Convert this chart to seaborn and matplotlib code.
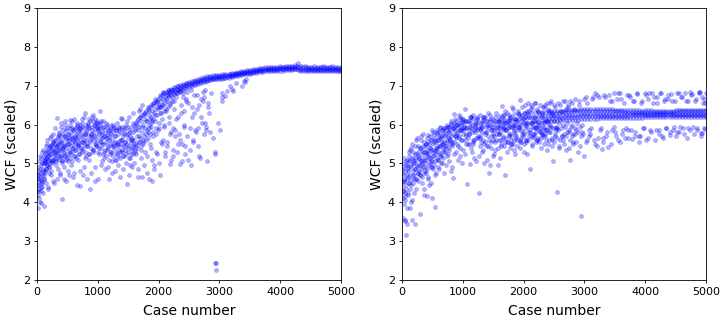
import pandas as pd
import matplotlib
matplotlib.use('Agg')
import matplotlib.pyplot as plt
import seaborn as sns

# values
left_band_x = [2250, 2300, 2350, 2400, 2450, 2500, 2550, 2600, 2650, 2700, 2750, 2800, 2850, 2900, 2950, 3000,
               3050, 3100, 3150, 3200, 3250, 3300, 3350, 3400, 3450, 3500, 3550, 3600, 3650, 3700, 3750, 3800,
               3850, 3900, 3950, 4000, 4050, 4100, 4150, 4200, 4250, 4300, 4350, 4400, 4450, 4500, 4550, 4600,
               4650, 4700, 4750, 4800, 4850, 4900, 4950, 5000]
left_band_top = [6.96, 6.99, 7.02, 7.05, 7.07, 7.10, 7.13, 7.15, 7.17, 7.19, 7.22, 7.24, 7.26, 7.27, 7.28, 7.28,
                 7.29, 7.30, 7.31, 7.33, 7.34, 7.36, 7.38, 7.39, 7.40, 7.40, 7.42, 7.44, 7.45, 7.46, 7.47, 7.48,
                 7.49, 7.49, 7.49, 7.50, 7.49, 7.50, 7.51, 7.52, 7.53, 7.58, 7.52, 7.50, 7.49, 7.49, 7.50, 7.49,
                 7.49, 7.50, 7.49, 7.49, 7.50, 7.48, 7.47, 7.47]
left_band_mid = [6.88, 6.92, 6.95, 6.98, 7.01, 7.04, 7.07, 7.09, 7.11, 7.14, 7.16, 7.18, 7.20, 7.21, 7.22, 7.23,
                 7.24, 7.25, 7.26, 7.28, 7.29, 7.31, 7.33, 7.34, 7.35, 7.35, 7.37, 7.39, 7.40, 7.41, 7.42, 7.43,
                 7.44, 7.44, 7.44, 7.45, 7.44, 7.45, 7.46, 7.46, 7.47, 7.47, 7.44, 7.43, 7.43, 7.43, 7.44, 7.43,
                 7.43, 7.44, 7.43, 7.43, 7.44, 7.43, 7.42, 7.42]
left_band_low = [6.78, 6.82, 6.86, 6.90, 6.93, 6.97, 7.00, 7.03, 7.05, 7.08, 7.10, 7.12, 7.14, 7.16, 7.17, 7.17,
                 7.18, 7.20, 7.21, 7.23, 7.24, 7.25, 7.27, 7.29, 7.30, 7.30, 7.32, 7.34, 7.35, 7.36, 7.37, 7.38,
                 7.39, 7.39, 7.39, 7.39, 7.39, 7.40, 7.41, 7.41, 7.42, 7.40, 7.37, 7.37, 7.37, 7.38, 7.38, 7.38,
                 7.37, 7.38, 7.37, 7.37, 7.38, 7.37, 7.37, 7.37]

left_band2_x = [2275, 2325, 2375, 2425, 2475, 2525, 2575, 2625, 2675, 2725,
                2775, 2825, 2875, 2925, 2975, 3025, 3075, 3125, 3175, 3225,
                3275, 3325, 3375, 3425, 3475, 3525, 3575, 3625, 3675, 3725,
                3775, 3825, 3875, 3925, 3975, 4025, 4075, 4125, 4175, 4225,
                4275, 4325, 4375, 4425, 4475, 4525, 4575, 4625, 4675, 4725,
                4775, 4825, 4875, 4925, 4975]
left_band2_top = [6.95, 6.98, 7.00, 7.03, 7.06, 7.08, 7.11, 7.13, 7.15, 7.18,
                  7.20, 7.22, 7.23, 7.24, 7.25, 7.26, 7.27, 7.27, 7.29, 7.30,
                  7.32, 7.34, 7.35, 7.36, 7.37, 7.38, 7.40, 7.41, 7.43, 7.44,
                  7.44, 7.45, 7.46, 7.46, 7.46, 7.47, 7.47, 7.47, 7.48, 7.49,
                  7.50, 7.49, 7.47, 7.47, 7.46, 7.46, 7.46, 7.46, 7.47, 7.47,
                  7.46, 7.47, 7.46, 7.45, 7.44]
left_band2_low = [6.85, 6.89, 6.92, 6.95, 6.98, 7.01, 7.04, 7.07, 7.09, 7.11,
                  7.13, 7.15, 7.17, 7.18, 7.20, 7.20, 7.21, 7.23, 7.24, 7.25,
                  7.27, 7.29, 7.31, 7.32, 7.33, 7.34, 7.36, 7.37, 7.38, 7.39,
                  7.40, 7.41, 7.41, 7.41, 7.42, 7.42, 7.42, 7.43, 7.43, 7.44,
                  7.44, 7.41, 7.40, 7.40, 7.40, 7.41, 7.40, 7.40, 7.41, 7.40,
                  7.40, 7.41, 7.40, 7.40, 7.39]

left_cloud_x = [5, 12, 18, 25, 30, 38, 44, 52, 60, 66, 74, 82, 90, 98,
                8, 15, 22, 35, 48, 57, 70, 78, 86, 95, 105, 112, 120, 128,
                110, 118, 125, 135, 142, 150, 158, 165, 172, 180, 188, 195, 205, 212,
                135, 145, 155, 168, 178, 185, 198, 208, 218, 226, 235, 245, 255, 262,
                220, 232, 242, 250, 260, 270, 278, 288, 296, 305, 315, 322, 330, 340,
                275, 285, 295, 310, 325, 338, 348, 356, 365, 375, 385, 395, 405, 415,
                350, 360, 372, 382, 392, 402, 412, 422, 432, 442, 452, 462, 472, 482,
                425, 438, 448, 458, 468, 478, 490, 500, 510, 520, 530, 540, 550, 560,
                495, 508, 518, 528, 538, 548, 558, 568, 578, 588, 598, 608, 618, 628,
                570, 582, 592, 602, 612, 622, 632, 642, 652, 662, 672, 682, 692, 702,
                640, 655, 668, 680, 695, 708, 720, 732, 745, 758, 770, 782, 795, 808,
                715, 728, 742, 755, 768, 780, 792, 805, 818, 830, 842, 855, 868, 880,
                820, 835, 848, 860, 875, 888, 900, 915, 928, 940, 952, 965, 978, 990,
                890, 905, 920, 935, 948, 960, 975, 988, 1000, 1012, 1025, 1038, 1050, 1062,
                1000, 1015, 1030, 1045, 1060, 1075, 1090, 1105, 1120, 1135, 1150, 1165, 1180, 1195,
                1070, 1085, 1100, 1115, 1130, 1145, 1160, 1175, 1190, 1205, 1220, 1235, 1250, 1265,
                1210, 1225, 1240, 1255, 1270, 1285, 1300, 1315, 1330, 1345, 1360, 1375, 1390, 1405,
                1280, 1295, 1310, 1325, 1340, 1355, 1370, 1385, 1400, 1415, 1430, 1445, 1460, 1475,
                1420, 1435, 1450, 1465, 1480, 1495, 1510, 1525, 1540, 1555, 1570, 1585, 1600, 1615,
                1490, 1505, 1520, 1535, 1550, 1565, 1580, 1595, 1610, 1625, 1640, 1655, 1670, 1685,
                1630, 1645, 1660, 1675, 1690, 1705, 1720, 1735, 1750, 1765, 1780, 1795, 1810, 1825,
                1700, 1715, 1730, 1745, 1760, 1775, 1790, 1805, 1820, 1835, 1850, 1865, 1880, 1895,
                1840, 1855, 1870, 1885, 1900, 1915, 1930, 1945, 1960, 1975, 1990, 2005, 2020, 2035,
                1910, 1925, 1940, 1955, 1970, 1985, 2000, 2015, 2030, 2045, 2060, 2075, 2090, 2105,
                2050, 2065, 2080, 2095, 2110, 2125, 2140, 2155, 2170, 2185, 2200, 2215, 2230, 2245,
                2120, 2135, 2150, 2165, 2180, 2195, 2210, 2225, 2240, 2255, 2270, 2285, 2300, 2315,
                2260, 2275, 2290, 2305, 2320, 2335, 2350, 2365, 2380, 2395, 2410, 2425, 2440, 2455,
                2330, 2345, 2360, 2375, 2390, 2405, 2420, 2435, 2450, 2470, 2490, 2510, 2530, 2550,
                2470, 2490, 2510, 2530, 2550, 2570, 2590, 2610, 2630, 2650, 2670, 2690, 2710, 2730,
                2565, 2585, 2605, 2625, 2645, 2665, 2685, 2705, 2725, 2745, 2765, 2785, 2800, 2820,
                2740, 2760, 2780, 2810, 2830, 2850, 2870, 2890, 2920, 2935, 2930, 2940, 2950, 2985,
                3015, 3035, 3040, 3050, 3100, 3130, 3180, 3200, 3230, 3375, 3400, 3420, 3440, 3280]
left_cloud_y = [4.3, 3.85, 4.6, 4.1, 5.05, 4.35, 4.75, 4.0, 4.5, 5.15, 3.98, 4.55, 5.3, 4.25,
                4.7, 4.9, 4.45, 4.8, 5.2, 4.65, 4.3, 5.0, 4.4, 4.85, 5.35, 3.9, 4.7, 5.1,
                4.6, 5.2, 5.0, 4.8, 5.45, 4.5, 5.15, 4.95, 5.6, 4.35, 5.3, 4.75, 5.1, 5.65,
                5.05, 5.3, 4.85, 5.5, 4.4, 5.2, 4.9, 5.45, 5.0, 5.7, 4.7, 5.35, 5.1, 5.55,
                5.25, 4.8, 5.5, 5.05, 5.75, 4.55, 5.35, 5.15, 5.9, 4.95, 5.45, 4.6, 5.25, 5.7,
                5.6, 4.5, 5.3, 5.05, 6.17, 4.85, 5.5, 5.2, 5.8, 4.7, 5.4, 5.95, 5.1, 4.08,
                5.35, 5.75, 4.75, 5.55, 5.2, 6.05, 5.0, 5.45, 5.85, 4.6, 5.3, 6.0, 5.1, 5.65,
                5.4, 4.9, 5.7, 5.2, 6.08, 4.55, 5.5, 5.9, 5.05, 5.6, 4.7, 6.12, 5.3, 5.8,
                5.15, 5.75, 4.8, 5.5, 6.0, 5.25, 4.95, 5.65, 6.1, 5.4, 4.65, 5.85, 5.2, 5.55,
                5.9, 5.05, 5.6, 6.15, 4.75, 5.35, 5.7, 5.15, 6.0, 4.45, 5.5, 5.8, 5.25, 4.43,
                5.65, 6.05, 5.1, 5.45, 5.9, 4.8, 5.7, 6.15, 5.3, 5.55, 4.9, 6.3, 5.75, 5.2,
                5.9, 5.4, 6.05, 4.7, 5.6, 6.2, 5.15, 5.8, 4.6, 5.5, 6.0, 5.25, 4.35, 5.7,
                5.45, 5.95, 5.1, 6.15, 5.6, 4.75, 5.85, 6.25, 5.3, 5.7, 4.55, 6.05, 5.5, 5.9,
                5.75, 6.2, 5.35, 5.6, 4.9, 6.0, 5.45, 6.1, 4.6, 5.8, 5.25, 6.35, 5.65, 5.05,
                5.9, 5.4, 6.05, 5.55, 4.95, 5.75, 6.1, 5.3, 4.85, 5.65, 6.0, 5.45, 4.6, 5.85,
                5.5, 5.95, 5.15, 5.7, 6.05, 5.35, 4.9, 5.8, 5.6, 5.25, 6.0, 4.75, 5.5, 5.9,
                5.3, 5.75, 5.05, 6.0, 5.45, 4.8, 5.85, 5.55, 5.2, 5.95, 4.65, 5.6, 6.15, 5.35,
                5.7, 5.1, 6.05, 5.5, 4.95, 5.85, 5.3, 6.18, 5.6, 4.85, 5.75, 5.45, 6.0, 4.47,
                5.2, 5.9, 5.55, 5.0, 6.1, 5.4, 4.7, 5.8, 5.25, 5.65, 4.92, 6.05, 5.5, 5.35,
                5.75, 5.15, 6.2, 4.95, 5.6, 5.4, 6.3, 5.0, 5.85, 5.25, 6.0, 4.65, 5.55, 6.35,
                5.45, 6.1, 4.85, 5.7, 6.4, 5.15, 5.95, 4.65, 5.55, 6.25, 5.3, 6.1, 4.75, 5.8,
                6.2, 5.35, 6.5, 5.6, 4.95, 6.3, 5.75, 5.2, 6.45, 4.6, 5.9, 6.15, 5.4, 4.55,
                6.35, 5.5, 6.05, 5.1, 6.55, 5.7, 4.85, 6.25, 5.3, 6.6, 5.85, 5.0, 6.45, 5.55,
                6.15, 4.95, 6.65, 5.75, 5.25, 6.4, 5.9, 6.75, 4.7, 6.3, 5.5, 6.85, 5.95, 5.2,
                6.5, 5.6, 6.8, 6.0, 5.3, 6.65, 5.45, 6.9, 6.2, 5.75, 5.1, 6.7, 5.9, 5.35,
                6.35, 5.55, 6.75, 6.05, 4.98, 6.5, 5.8, 6.88, 5.2, 6.6, 5.7, 6.15, 6.8, 5.5,
                6.4, 5.85, 6.7, 5.3, 6.2, 6.9, 5.6, 6.5, 5.05, 6.8, 5.95, 6.35, 5.45, 6.65,
                5.75, 6.85, 4.98, 6.3, 5.5, 6.7, 6.0, 5.25, 6.6, 6.85, 5.1, 5.9, 4.95, 6.45,
                5.7, 6.55, 5.35, 6.9, 6.2, 5.55, 6.75, 5.8, 6.4, 5.9, 5.2, 6.65, 6.05, 6.85,
                5.6, 6.3, 5.85, 6.75, 5.45, 6.5, 5.15, 6.2, 6.6, 5.75, 6.9, 5.95, 5.06, 6.45,
                6.7, 6.05, 5.85, 6.55, 6.3, 5.8, 6.8, 5.65, 5.24, 5.3, 2.44, 2.45, 2.27, 6.03,
                5.85, 6.6, 6.7, 6.8, 6.74, 6.87, 7.0, 6.92, 6.87, 7.0, 7.12, 7.1, 7.18, 7.08]

# the dense middle of the left cloud
left_core_x = [3, 11, 19, 27, 35, 43, 51, 59, 67, 75, 83, 91, 99, 107,
               115, 123, 131, 139, 147, 155, 163, 171, 179, 187, 195, 203, 211, 219,
               227, 235, 243, 251, 259, 267, 275, 283, 291, 299, 307, 315, 323, 331,
               339, 347, 355, 363, 371, 379, 387, 395, 403, 411, 419, 427, 435, 443,
               451, 459, 467, 475, 483, 491, 499, 507, 515, 523, 531, 539, 547, 555,
               563, 571, 579, 587, 595, 603, 611, 619, 627, 635, 643, 651, 659, 667,
               675, 683, 691, 699, 707, 715, 723, 731, 739, 747, 755, 763, 771, 779,
               787, 795, 803, 811, 819, 827, 835, 843, 851, 859, 867, 875, 883, 891,
               899, 907, 915, 923, 931, 939, 947, 955, 963, 971, 979, 987, 995, 1003,
               1011, 1019, 1027, 1035, 1043, 1051, 1059, 1067, 1075, 1083, 1091, 1099, 1107, 1115,
               1123, 1131, 1139, 1147, 1155, 1163, 1171, 1179, 1187, 1195, 1203, 1211, 1219, 1227,
               1235, 1243, 1251, 1259, 1267, 1275, 1283, 1291, 1299, 1307, 1315, 1323, 1331, 1339,
               1347, 1355, 1363, 1371, 1379, 1387, 1395, 1403, 1411, 1419, 1427, 1435, 1443, 1451,
               1459, 1467, 1475, 1483, 1491, 1499, 1507, 1515, 1523, 1531, 1539, 1547, 1555, 1563,
               1571, 1579, 1587, 1595, 1603, 1611, 1619, 1627, 1635, 1643, 1651, 1659, 1667, 1675,
               1683, 1691, 1699, 1707, 1715, 1723, 1731, 1739, 1747, 1755, 1763, 1771, 1779, 1787,
               1795, 1803, 1811, 1819, 1827, 1835, 1843, 1851, 1859, 1867, 1875, 1883, 1891, 1899,
               1907, 1915, 1923, 1931, 1939, 1947, 1955, 1963, 1971, 1979, 1987, 1995, 2003, 2011,
               2019, 2027, 2035, 2043, 2051, 2059, 2067, 2075, 2083, 2091, 2099, 2107, 2115, 2123,
               2131, 2139, 2147, 2155, 2163, 2171, 2179, 2187, 2195, 2203, 2211, 2219, 2227, 2235]
left_core_y = [4.45, 4.2, 4.7, 4.55, 4.3, 4.85, 4.6, 4.4, 4.95, 4.7, 4.5, 5.0, 4.8, 4.6,
               5.1, 4.75, 5.0, 5.25, 4.85, 5.15, 5.35, 4.95, 5.2, 5.05, 5.4, 4.9, 5.25, 5.45,
               5.1, 5.35, 5.0, 5.45, 5.2, 5.55, 5.3, 5.05, 5.5, 5.25, 5.4, 5.6, 5.15, 5.45,
               5.3, 5.65, 5.1, 5.5, 5.35, 5.7, 5.2, 5.55, 5.4, 5.05, 5.6, 5.3, 5.75, 5.45,
               5.5, 5.2, 5.7, 5.4, 5.85, 5.6, 5.25, 5.5, 5.75, 5.35, 5.65, 5.15, 5.9, 5.45,
               5.7, 5.3, 5.55, 5.85, 5.4, 5.65, 5.2, 5.9, 5.5, 5.75, 5.35, 5.6, 5.95, 5.45,
               5.7, 5.25, 5.85, 5.5, 6.0, 5.6, 5.35, 5.8, 5.55, 5.95, 5.4, 5.7, 5.9, 5.5,
               5.75, 5.3, 6.0, 5.6, 5.85, 5.45, 6.05, 5.7, 5.25, 5.9, 5.55, 6.1, 5.75, 5.4,
               5.95, 5.65, 6.1, 5.35, 5.8, 6.0, 5.5, 6.15, 5.7, 5.9, 5.45, 6.05, 5.6, 5.85,
               5.3, 5.75, 6.0, 5.55, 5.9, 5.4, 6.1, 5.65, 5.8, 5.25, 5.95, 5.5, 5.7, 5.35,
               5.85, 5.55, 5.2, 5.75, 5.95, 5.4, 5.65, 5.1, 5.85, 5.5, 5.7, 5.3, 5.9, 5.45,
               5.6, 5.2, 5.8, 5.4, 5.95, 5.55, 5.1, 5.7, 5.3, 5.85, 5.5, 5.25, 5.75, 5.45,
               5.9, 5.35, 5.6, 5.15, 5.8, 5.5, 5.95, 5.3, 5.7, 5.45, 5.2, 5.85, 5.55, 5.35,
               5.75, 5.25, 5.95, 5.5, 5.65, 5.3, 5.85, 5.45, 5.15, 5.7, 5.55, 5.95, 5.35, 5.6,
               5.25, 5.8, 5.45, 6.0, 5.6, 5.3, 5.9, 5.5, 6.05, 5.7, 5.4, 5.85, 6.15, 5.55,
               5.95, 6.2, 5.65, 5.45, 6.1, 5.8, 6.25, 5.5, 6.0, 5.7, 6.3, 5.9, 6.15, 5.6,
               6.35, 5.85, 6.1, 6.4, 5.65, 6.25, 6.0, 6.45, 5.75, 6.2, 6.5, 5.95, 6.35, 6.1,
               6.5, 5.8, 6.3, 6.55, 6.1, 6.4, 6.6, 5.9, 6.25, 6.55, 6.45, 6.65, 6.05, 6.5,
               6.7, 6.3, 6.6, 6.45, 6.75, 6.15, 6.65, 6.5, 6.8, 6.35, 6.7, 6.55, 6.85, 6.4,
               6.75, 6.6, 6.85, 6.45, 6.8, 6.7, 6.9, 6.55, 6.85, 6.75, 6.92, 6.6, 6.88, 6.8]

right_band_x = [1600, 1680, 1760, 1840, 1920, 2000, 2060, 2120, 2180, 2240, 2300, 2350, 2400, 2450, 2500, 2550,
                2600, 2650, 2700, 2750, 2800, 2850, 2900, 2950, 3000, 3050, 3100, 3150, 3200, 3250, 3300, 3350,
                3400, 3450, 3500, 3550, 3600, 3650, 3700, 3750, 3800, 3850, 3900, 3950, 4000, 4050, 4100, 4150,
                4200, 4250, 4300, 4350, 4400, 4450, 4500, 4550, 4600, 4650, 4700, 4750, 4800, 4850, 4900, 4950, 5000]
right_band_top = [6.22, 6.24, 6.25, 6.27, 6.28, 6.30, 6.30, 6.31, 6.32, 6.32, 6.33, 6.33, 6.34, 6.34, 6.35, 6.35,
                  6.36, 6.36, 6.37, 6.37, 6.38, 6.38, 6.38, 6.39, 6.39, 6.39, 6.40, 6.39, 6.40, 6.40, 6.40, 6.39,
                  6.39, 6.39, 6.38, 6.38, 6.38, 6.38, 6.37, 6.37, 6.37, 6.37, 6.37, 6.36, 6.37, 6.37, 6.37, 6.36,
                  6.36, 6.36, 6.36, 6.36, 6.36, 6.36, 6.37, 6.37, 6.37, 6.38, 6.38, 6.38, 6.38, 6.38, 6.38, 6.38, 6.38]
right_band_mid = [6.08, 6.10, 6.12, 6.14, 6.15, 6.16, 6.17, 6.18, 6.19, 6.20, 6.20, 6.21, 6.21, 6.22, 6.22, 6.23,
                  6.23, 6.24, 6.24, 6.24, 6.25, 6.25, 6.25, 6.26, 6.26, 6.26, 6.27, 6.27, 6.27, 6.27, 6.27, 6.27,
                  6.27, 6.27, 6.27, 6.27, 6.27, 6.27, 6.27, 6.27, 6.27, 6.27, 6.27, 6.27, 6.27, 6.27, 6.27, 6.27,
                  6.27, 6.27, 6.27, 6.27, 6.28, 6.28, 6.28, 6.28, 6.28, 6.28, 6.28, 6.28, 6.28, 6.28, 6.28, 6.28, 6.28]
right_band_low = [5.92, 5.94, 5.97, 5.99, 6.01, 6.03, 6.04, 6.05, 6.06, 6.07, 6.08, 6.08, 6.09, 6.09, 6.10, 6.10,
                  6.11, 6.11, 6.12, 6.12, 6.13, 6.13, 6.13, 6.14, 6.14, 6.14, 6.15, 6.15, 6.15, 6.16, 6.16, 6.16,
                  6.16, 6.16, 6.17, 6.17, 6.17, 6.17, 6.18, 6.18, 6.18, 6.18, 6.18, 6.18, 6.19, 6.19, 6.19, 6.19,
                  6.19, 6.19, 6.19, 6.19, 6.19, 6.19, 6.19, 6.19, 6.19, 6.19, 6.19, 6.19, 6.19, 6.19, 6.19, 6.19, 6.19]

right_band2_x = [2425, 2475, 2525, 2575, 2625, 2675, 2725, 2775, 2825, 2875,
                 2925, 2975, 3025, 3075, 3125, 3175, 3225, 3275, 3325, 3375,
                 3425, 3475, 3525, 3575, 3625, 3675, 3725, 3775, 3825, 3875,
                 3925, 3975, 4025, 4075, 4125, 4175, 4225, 4275, 4325, 4375,
                 4425, 4475, 4525, 4575, 4625, 4675, 4725, 4775, 4825, 4875,
                 4925, 4975]
right_band2_top = [6.29, 6.30, 6.30, 6.31, 6.32, 6.32, 6.33, 6.33, 6.34, 6.34,
                   6.34, 6.35, 6.35, 6.36, 6.36, 6.35, 6.36, 6.36, 6.35, 6.35,
                   6.35, 6.34, 6.34, 6.34, 6.34, 6.33, 6.33, 6.33, 6.33, 6.33,
                   6.33, 6.33, 6.33, 6.33, 6.33, 6.33, 6.33, 6.33, 6.33, 6.33,
                   6.33, 6.33, 6.34, 6.34, 6.34, 6.34, 6.34, 6.34, 6.34, 6.34,
                   6.35, 6.35]
right_band2_low = [6.15, 6.16, 6.17, 6.18, 6.18, 6.19, 6.19, 6.20, 6.20, 6.20,
                   6.21, 6.21, 6.21, 6.22, 6.22, 6.22, 6.22, 6.22, 6.23, 6.23,
                   6.23, 6.23, 6.23, 6.23, 6.23, 6.23, 6.23, 6.24, 6.24, 6.24,
                   6.24, 6.24, 6.24, 6.24, 6.24, 6.24, 6.24, 6.24, 6.24, 6.24,
                   6.24, 6.24, 6.24, 6.24, 6.24, 6.24, 6.24, 6.24, 6.24, 6.24,
                   6.24, 6.24]

right_cloud_x = [4, 10, 16, 22, 28, 34, 40, 48, 55, 62, 70, 78, 85, 92,
                 6, 14, 20, 30, 42, 50, 60, 68, 76, 88, 98, 106, 115, 125,
                 100, 110, 120, 130, 140, 150, 160, 170, 180, 190, 200, 210, 220, 230,
                 135, 145, 155, 165, 175, 185, 195, 205, 215, 225, 235, 245, 255, 265,
                 240, 250, 260, 270, 280, 290, 300, 310, 320, 330, 340, 350, 360, 370,
                 285, 295, 305, 315, 325, 335, 345, 355, 365, 375, 385, 395, 405, 415,
                 380, 390, 400, 410, 420, 430, 440, 450, 460, 470, 480, 490, 500, 510,
                 425, 435, 445, 455, 465, 475, 485, 495, 505, 515, 525, 535, 545, 555,
                 520, 530, 540, 550, 560, 570, 580, 590, 600, 610, 620, 630, 640, 650,
                 565, 578, 588, 598, 608, 618, 628, 638, 648, 658, 668, 678, 688, 698,
                 660, 672, 684, 696, 708, 720, 732, 744, 756, 768, 780, 792, 804, 816,
                 710, 725, 738, 750, 762, 775, 788, 800, 812, 825, 838, 850, 862, 875,
                 830, 845, 858, 870, 885, 898, 910, 925, 938, 950, 962, 975, 988, 1000,
                 890, 905, 920, 935, 948, 960, 972, 985, 998, 1010, 1022, 1035, 1048, 1060,
                 1015, 1030, 1045, 1070, 1085, 1100, 1115, 1130, 1145, 1160, 1175, 1190, 1205, 1220,
                 1080, 1095, 1110, 1125, 1140, 1155, 1170, 1185, 1200, 1215, 1230, 1245, 1260, 1275,
                 1235, 1250, 1265, 1280, 1295, 1310, 1325, 1340, 1355, 1370, 1385, 1400, 1415, 1430,
                 1290, 1305, 1320, 1335, 1350, 1365, 1380, 1395, 1410, 1425, 1440, 1455, 1470, 1485,
                 1445, 1460, 1475, 1490, 1505, 1520, 1535, 1550, 1565, 1580, 1595, 1610, 1625, 1640,
                 1500, 1515, 1530, 1545, 1560, 1575, 1590, 1605, 1620, 1635, 1650, 1665, 1680, 1695,
                 1655, 1670, 1685, 1700, 1715, 1730, 1745, 1760, 1775, 1790, 1805, 1820, 1835, 1850,
                 1710, 1725, 1740, 1755, 1770, 1785, 1800, 1815, 1830, 1845, 1860, 1875, 1890, 1905,
                 1865, 1880, 1895, 1910, 1925, 1940, 1955, 1970, 1985, 2000, 2015, 2030, 2045, 2060,
                 1920, 1935, 1950, 1965, 1980, 1995, 2010, 2025, 2040, 2055, 2070, 2085, 2100, 2115,
                 2075, 2090, 2105, 2120, 2135, 2150, 2165, 2180, 2195, 2210, 2225, 2240, 2255, 2270,
                 2130, 2145, 2160, 2175, 2190, 2205, 2220, 2235, 2250, 2265, 2280, 2295, 2310, 2325,
                 2285, 2300, 2315, 2330, 2345, 2360, 2375, 2390, 2405, 2420, 2435, 2450, 2465, 2480,
                 2340, 2355, 2370, 2385, 2400, 2415, 2430, 2445, 2460, 2475, 2490, 2505, 2520, 2535,
                 2495, 2510, 2530, 2550, 2555, 2570, 2590, 2610, 2630, 2650, 2670, 2690, 2710, 2730,
                 2550, 2575, 2600, 2625, 2650, 2675, 2700, 2725, 2750, 2770, 2790, 2810, 2830, 2850,
                 2740, 2765, 2790, 2815, 2840, 2865, 2890, 2915, 2950, 2975, 3000, 3020, 3045, 3070,
                 2905, 2930, 2960, 2990, 3020, 3050, 3080, 3110, 3140, 3170, 3200, 3230, 3260, 3290,
                 3090, 3120, 3150, 3180, 3210, 3240, 3270, 3300, 3330, 3360, 3390, 3420, 3450, 3480,
                 3310, 3340, 3370, 3400, 3430, 3460, 3490, 3520, 3550, 3580, 3610, 3640, 3670, 3700,
                 3500, 3530, 3560, 3590, 3620, 3650, 3680, 3710, 3740, 3770, 3800, 3830, 3860, 3890,
                 3720, 3750, 3780, 3810, 3840, 3870, 3900, 3930, 3960, 3990, 4020, 4050, 4080, 4110,
                 3920, 3950, 3980, 4010, 4040, 4070, 4100, 4130, 4160, 4190, 4220, 4250, 4280, 4310,
                 4140, 4170, 4200, 4230, 4260, 4290, 4320, 4350, 4380, 4410, 4440, 4470, 4500, 4530,
                 4340, 4370, 4400, 4430, 4460, 4490, 4520, 4550, 4580, 4610, 4640, 4670, 4700, 4730,
                 4560, 4590, 4620, 4650, 4680, 4710, 4740, 4770, 4800, 4830, 4860, 4890, 4920, 4950,
                 4760, 4790, 4820, 4850, 4880, 4910, 4940, 4970, 4990, 5000, 4985, 4960, 4930, 4900]
right_cloud_y = [4.4, 3.6, 4.85, 4.1, 5.15, 3.95, 4.6, 3.55, 4.25, 5.05, 3.15, 4.7, 3.45, 4.9,
                 4.75, 4.3, 5.0, 4.55, 3.52, 4.05, 4.95, 4.35, 5.1, 3.85, 4.65, 4.2, 5.3, 3.85,
                 4.8, 5.2, 4.5, 5.35, 4.0, 4.9, 5.5, 3.55, 4.7, 5.05, 4.25, 5.45, 3.43, 4.6,
                 5.1, 4.45, 5.4, 4.05, 5.0, 5.3, 4.6, 5.15, 4.85, 5.6, 4.35, 5.25, 4.75, 5.45,
                 4.95, 5.65, 4.55, 5.2, 4.8, 5.4, 3.7, 5.05, 5.7, 4.65, 5.3, 4.9, 5.55, 4.35,
                 5.15, 4.7, 5.6, 4.95, 5.35, 4.5, 5.75, 5.1, 4.2, 5.45, 4.8, 5.25, 5.65, 4.15,
                 5.0, 5.5, 4.75, 5.3, 5.72, 4.6, 5.15, 4.45, 5.4, 4.9, 5.6, 5.05, 4.1, 5.8,
                 5.25, 4.65, 5.5, 5.0, 5.7, 4.5, 5.35, 5.85, 4.85, 5.2, 5.55, 4.7, 3.88, 5.4,
                 5.75, 4.95, 5.3, 5.6, 4.75, 5.85, 5.15, 5.45, 4.9, 5.7, 5.25, 5.9, 5.0, 5.55,
                 5.35, 5.8, 5.1, 5.6, 4.85, 5.45, 5.95, 5.2, 5.7, 5.0, 5.5, 5.85, 5.3, 4.75,
                 5.65, 5.15, 5.9, 5.4, 5.75, 4.95, 5.55, 6.0, 5.25, 5.8, 5.05, 5.6, 6.05, 4.9,
                 5.45, 5.85, 5.2, 5.7, 5.95, 5.35, 5.6, 6.1, 4.8, 5.5, 5.9, 5.25, 6.28, 5.7,
                 5.55, 4.62, 5.9, 6.15, 5.3, 5.75, 6.0, 5.1, 5.65, 6.2, 5.4, 5.85, 5.02, 6.1,
                 5.7, 6.0, 5.45, 6.25, 5.85, 5.2, 6.05, 5.6, 6.15, 5.35, 5.9, 6.4, 5.5, 5.75,
                 5.95, 5.25, 6.1, 4.48, 5.65, 5.85, 6.2, 5.4, 6.0, 5.55, 6.25, 5.15, 5.8, 6.05,
                 5.5, 6.1, 5.75, 4.98, 5.9, 5.3, 6.15, 5.6, 5.95, 5.05, 6.2, 5.7, 4.23, 5.45,
                 5.85, 6.05, 5.2, 6.25, 5.55, 5.95, 5.35, 6.15, 5.0, 5.75, 6.1, 5.45, 6.3, 4.75,
                 5.65, 5.9, 5.3, 6.05, 5.5, 6.2, 5.8, 5.1, 6.0, 5.6, 4.95, 6.1, 5.4, 5.85,
                 6.25, 5.55, 5.95, 5.2, 6.1, 5.7, 5.35, 6.3, 5.85, 4.95, 5.6, 6.15, 5.45, 6.05,
                 5.75, 5.25, 6.2, 5.6, 5.95, 5.4, 6.1, 5.8, 5.15, 5.5, 6.48, 5.7, 6.05, 4.7,
                 6.25, 5.45, 5.9, 6.35, 5.65, 5.3, 6.1, 5.75, 6.2, 5.5, 5.95, 6.4, 5.6, 5.35,
                 5.85, 6.3, 5.55, 6.05, 5.4, 6.2, 5.7, 6.45, 5.5, 5.9, 5.25, 6.15, 5.6, 6.35,
                 5.75, 6.1, 5.45, 6.3, 5.95, 6.62, 5.55, 6.25, 5.7, 5.3, 6.05, 6.5, 5.6, 6.35,
                 5.9, 5.4, 6.2, 5.65, 6.45, 5.8, 5.5, 6.3, 6.0, 5.25, 6.55, 5.7, 4.85, 6.4,
                 5.6, 6.35, 5.85, 6.5, 5.45, 6.1, 5.75, 6.55, 5.9, 5.55, 6.4, 5.65, 6.3, 5.8,
                 6.45, 5.5, 6.2, 5.7, 6.55, 5.95, 5.6, 6.35, 5.85, 6.5, 5.4, 6.05, 5.75, 6.45,
                 5.65, 6.3, 5.9, 5.5, 6.5, 5.75, 6.1, 5.35, 6.4, 5.6, 6.55, 5.95, 5.45, 6.25,
                 6.45, 5.7, 5.85, 6.55, 5.5, 6.35, 5.8, 6.6, 5.6, 6.3, 5.05, 6.5, 5.75, 5.9,
                 5.55, 6.45, 5.85, 5.65, 4.26, 6.55, 5.4, 6.35, 5.7, 6.6, 5.5, 6.4, 5.8, 6.5,
                 5.9, 5.45, 6.5, 5.7, 5.6, 6.6, 5.35, 6.45, 5.8, 5.08, 6.55, 5.55, 6.4, 5.75,
                 5.4, 6.6, 5.7, 5.5, 6.65, 5.85, 5.3, 6.5, 3.64, 5.75, 5.18, 6.7, 5.6, 5.85,
                 6.6, 5.45, 5.8, 6.65, 5.55, 6.55, 5.7, 5.9, 6.7, 5.5, 6.75, 5.65, 5.85, 5.38,
                 5.75, 6.65, 5.6, 6.8, 5.45, 6.7, 5.9, 5.55, 6.75, 5.7, 5.42, 6.6, 5.85, 6.8,
                 5.65, 6.7, 5.8, 6.75, 5.5, 6.6, 5.95, 5.7, 6.8, 5.55, 6.65, 5.85, 5.65, 6.75,
                 5.8, 6.65, 5.6, 6.8, 5.75, 6.55, 5.9, 5.65, 6.75, 5.85, 6.6, 5.7, 6.8, 5.55,
                 5.85, 6.7, 5.62, 6.6, 5.8, 6.78, 5.7, 6.55, 5.9, 6.8, 5.6, 6.65, 5.85, 6.82,
                 5.7, 6.6, 5.9, 6.75, 5.65, 6.8, 5.8, 6.55, 5.6, 6.7, 5.85, 6.8, 5.7, 6.6,
                 6.72, 5.85, 6.55, 5.75, 6.8, 5.65, 6.65, 5.9, 6.75, 5.8, 6.6, 5.95, 5.7, 6.8,
                 5.9, 6.65, 5.72, 6.78, 5.85, 6.6, 5.8, 6.82, 5.95, 6.7, 5.75, 6.6, 5.9, 6.85,
                 5.8, 6.7, 5.92, 6.8, 5.65, 6.6, 5.85, 6.78, 5.75, 6.65, 5.9, 6.85, 5.78, 6.55,
                 6.75, 5.95, 6.6, 5.85, 6.82, 5.7, 6.7, 5.9, 6.55, 6.8, 5.88, 6.65, 5.78, 6.85]

# the dense middle of the right cloud
right_core_x = [3, 12, 21, 30, 39, 48, 57, 66, 75, 84, 93, 102, 111, 120,
                129, 138, 147, 156, 165, 174, 183, 192, 201, 210, 219, 228, 237, 246,
                255, 264, 273, 282, 291, 300, 309, 318, 327, 336, 345, 354, 363, 372,
                381, 390, 399, 408, 417, 426, 435, 444, 453, 462, 471, 480, 489, 498,
                507, 516, 525, 534, 543, 552, 561, 570, 579, 588, 597, 606, 615, 624,
                633, 642, 651, 660, 669, 678, 687, 696, 705, 714, 723, 732, 741, 750,
                759, 768, 777, 786, 795, 804, 813, 822, 831, 840, 849, 858, 867, 876,
                885, 894, 903, 912, 921, 930, 939, 948, 957, 966, 975, 984, 993, 1002,
                1020, 1040, 1060, 1080, 1100, 1120, 1140, 1160, 1180, 1200, 1220, 1240, 1260, 1280,
                1300, 1320, 1340, 1360, 1380, 1400, 1420, 1440, 1460, 1480, 1500, 1520, 1540, 1560,
                1010, 1035, 1055, 1075, 1095, 1115, 1135, 1155, 1175, 1195, 1215, 1235, 1255, 1275,
                1295, 1315, 1335, 1355, 1375, 1395, 1415, 1435, 1455, 1475, 1495, 1515, 1535, 1555,
                1580, 1600, 1620, 1640, 1660, 1680, 1700, 1720, 1740, 1760, 1780, 1800, 1820, 1840,
                1860, 1880, 1900, 1920, 1940, 1960, 1980, 2000, 2020, 2040, 2060, 2080, 2100, 2120,
                1590, 1615, 1635, 1655, 1675, 1695, 1715, 1735, 1755, 1775, 1795, 1815, 1835, 1855,
                1875, 1895, 1915, 1935, 1955, 1975, 1995, 2015, 2035, 2055, 2075, 2095, 2115, 2135,
                2140, 2160, 2180, 2200, 2220, 2240, 2260, 2280, 2300, 2320, 2340, 2360, 2380, 2400,
                2150, 2170, 2190, 2210, 2230, 2250, 2270, 2290, 2310, 2330, 2350, 2370, 2390, 2410,
                2420, 2440, 2460, 2480, 2500, 2520, 2540, 2560, 2580, 2600, 2620, 2640, 2660, 2680,
                2700, 2720, 2740, 2760, 2780, 2800, 2820, 2840, 2860, 2880, 2900, 2920, 2940, 2960]
right_core_y = [4.5, 4.9, 4.3, 4.7, 4.55, 4.15, 4.8, 4.45, 4.95, 4.6, 4.25, 4.85, 4.5, 5.05,
                4.7, 4.35, 4.95, 4.6, 5.15, 4.8, 4.5, 5.0, 4.7, 5.25, 4.85, 4.6, 5.1, 4.9,
                4.75, 5.3, 4.95, 5.15, 4.7, 5.4, 5.05, 4.85, 5.25, 5.0, 5.45, 4.75, 5.15, 5.3,
                4.9, 5.5, 5.1, 5.35, 4.85, 5.2, 5.55, 4.95, 5.4, 5.15, 5.6, 5.05, 5.3, 4.9,
                5.5, 5.2, 5.65, 5.35, 5.05, 5.55, 5.25, 5.75, 5.4, 5.1, 5.6, 5.3, 5.8, 5.45,
                5.65, 5.2, 5.85, 5.5, 5.35, 5.75, 5.55, 5.9, 5.3, 5.7, 5.45, 5.95, 5.6, 5.8,
                5.4, 5.95, 5.65, 5.85, 5.5, 6.0, 5.7, 5.45, 5.9, 5.75, 6.05, 5.55, 5.85, 6.0,
                5.65, 6.1, 5.8, 5.5, 5.95, 6.05, 5.7, 6.15, 5.85, 5.6, 6.0, 5.9, 6.15, 5.75,
                6.05, 5.6, 5.9, 6.1, 5.75, 5.95, 6.2, 5.5, 5.85, 6.05, 5.65, 6.15, 5.9, 5.7,
                6.05, 5.8, 6.2, 5.55, 5.95, 6.1, 5.7, 6.0, 5.85, 6.15, 5.6, 5.95, 6.1, 5.75,
                5.85, 6.1, 5.7, 5.95, 5.5, 6.05, 6.2, 5.8, 5.6, 6.0, 5.9, 6.15, 5.65, 5.85,
                5.95, 6.1, 5.6, 6.2, 5.8, 6.0, 5.45, 5.9, 6.15, 5.7, 6.05, 5.85, 5.55, 6.0,
                6.1, 5.75, 5.95, 6.2, 5.65, 5.85, 6.05, 5.55, 5.9, 6.15, 5.75, 5.6, 6.0, 5.85,
                6.15, 5.7, 5.95, 6.25, 5.6, 5.85, 6.1, 5.75, 6.2, 5.55, 5.95, 6.25, 5.8, 6.05,
                5.75, 6.0, 5.6, 5.9, 6.15, 5.55, 5.85, 6.05, 5.7, 5.95, 5.5, 6.1, 5.8, 6.0,
                5.65, 6.1, 5.85, 5.55, 6.0, 5.75, 6.15, 5.9, 5.6, 6.05, 5.8, 6.2, 5.7, 5.95,
                6.05, 5.75, 6.2, 5.9, 5.6, 6.1, 6.0, 5.8, 6.25, 5.7, 5.95, 6.15, 5.85, 6.05,
                5.65, 5.95, 6.1, 5.8, 6.0, 5.55, 5.9, 6.2, 5.75, 6.05, 5.85, 5.6, 6.1, 5.95,
                5.8, 6.0, 5.65, 5.9, 6.1, 5.7, 5.95, 5.85, 6.05, 5.6, 5.9, 6.0, 5.75, 5.95,
                5.7, 6.05, 5.85, 5.6, 5.95, 6.0, 5.75, 5.9, 5.55, 6.05, 5.8, 5.95, 5.7, 6.0]


def make_frame(band_x, band_top, band_mid, band_low, band2_x, band2_top, band2_low, cloud_x, cloud_y, core_x, core_y):
    xs = band_x + band_x + band_x + band2_x + band2_x + cloud_x + core_x
    ys = band_top + band_mid + band_low + band2_top + band2_low + cloud_y + core_y
    return pd.DataFrame({'Case number': xs, 'WCF (scaled)': ys})


left = make_frame(left_band_x, left_band_top, left_band_mid, left_band_low, left_band2_x, left_band2_top,
                  left_band2_low, left_cloud_x, left_cloud_y, left_core_x, left_core_y)
right = make_frame(right_band_x, right_band_top, right_band_mid, right_band_low, right_band2_x, right_band2_top,
                   right_band2_low, right_cloud_x, right_cloud_y, right_core_x, right_core_y)

fig, axes = plt.subplots(1, 2, figsize=(7.25, 3.2), dpi=100)
fig.subplots_adjust(left=37 / 725, right=706 / 725, top=1 - 8 / 320, bottom=1 - 280 / 320, wspace=61 / 304)

for ax, df in zip(axes, [left, right]):
    sns.scatterplot(data=df, x='Case number', y='WCF (scaled)', color='blue', alpha=0.3,
                    s=8, edgecolor='blue', linewidth=0.5, ax=ax)
    ax.set_xlim(0, 5000)
    ax.set_ylim(2, 9)
    ax.set_xticks([0, 1000, 2000, 3000, 4000, 5000])
    ax.tick_params(labelsize=8, length=2.5, width=0.6, pad=2.5)
    ax.set_xlabel('Case number', fontsize=10, labelpad=5)
    ax.set_ylabel('WCF (scaled)', fontsize=10, labelpad=3.5)
    for spine in ax.spines.values():
        spine.set_linewidth(0.6)

fig.savefig('out.png', dpi=100)
